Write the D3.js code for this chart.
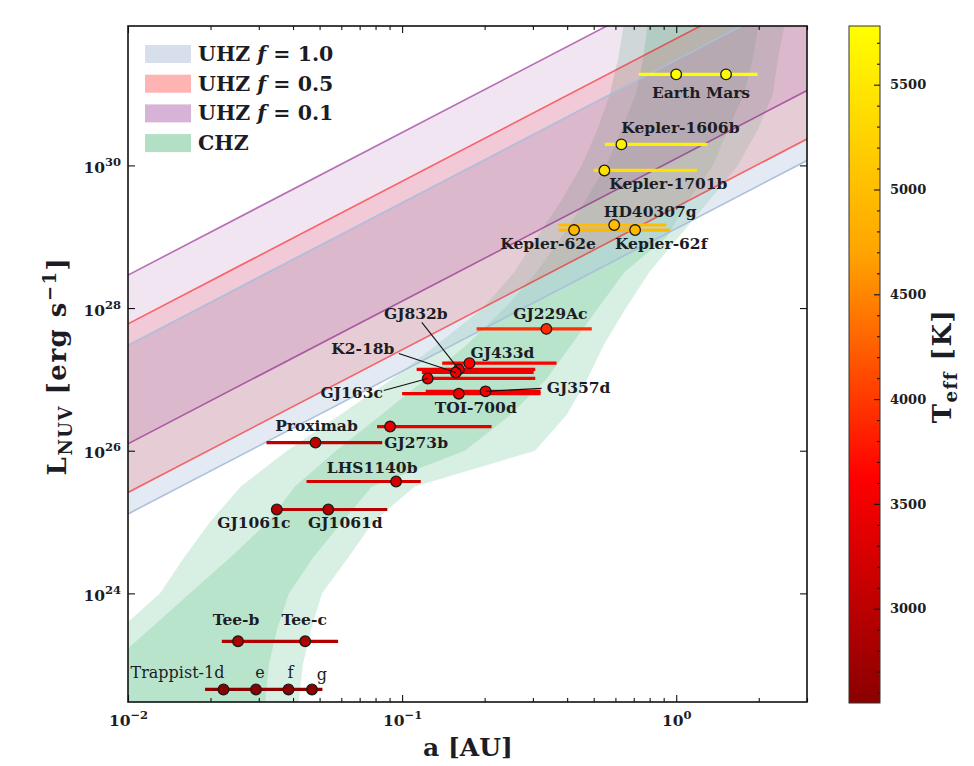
<!DOCTYPE html>
<html><head><meta charset="utf-8">
<script src="https://cdn.jsdelivr.net/npm/d3@7/dist/d3.min.js"></script>
<style>
body{margin:0;background:#fff;}
svg{display:block;}
text{font-family:"DejaVu Serif",serif;font-weight:bold;fill:#1c1c24;}
</style></head>
<body><svg id="c" width="974" height="766"></svg>
<script>
// ---------------- DATA ----------------
// Host stars: L_NUV [erg/s], HZ extent (a min, a max) [AU], Teff [K]
const hostNames = ["Sun","Kepler-1606","Kepler-1701","HD40307","Kepler-62","GJ229A","GJ433","GJ832","K2-18","GJ163","TOI-700","GJ357","GJ273","Proxima","LHS1140","GJ1061","Teegarden","Trappist-1"];
const hostL     = [1.89e31,1.97e30,8.5e29,1.46e29,1.24e29,5.1e27,1.69e27,1.38e27,1.25e27,1.03e27,6.3e26,6.8e26,2.18e26,1.30e26,3.7e25,1.50e25,2.13e23,4.5e22];
const hostAmin  = [0.73,0.549,0.50,0.372,0.372,0.187,0.140,0.113,0.118,0.122,0.100,0.122,0.081,0.0320,0.0448,0.0349,0.0220,0.0191];
const hostAmax  = [1.98,1.30,1.19,0.920,0.951,0.492,0.366,0.306,0.302,0.306,0.320,0.320,0.212,0.0846,0.117,0.0883,0.0584,0.0512];
const hostTeff  = [5778,5600,5420,4977,4925,3912,3616,3472,3457,3500,3480,3505,3382,3042,3216,2953,2904,2566];

// Planets: name, host, semi-major axis [AU]
const planetNames = ["Earth","Mars","Kepler-1606b","Kepler-1701b","HD40307g","Kepler-62e","Kepler-62f","GJ229Ac","GJ433d","GJ832b","K2-18b","GJ163c","TOI-700d","GJ357d","GJ273b","Proximab","LHS1140b","GJ1061c","GJ1061d","Tee-b","Tee-c","Trappist-1d","Trappist-1e","Trappist-1f","Trappist-1g"];
const planetHost  = ["Sun","Sun","Kepler-1606","Kepler-1701","HD40307","Kepler-62","Kepler-62","GJ229A","GJ433","GJ832","K2-18","GJ163","TOI-700","GJ357","GJ273","Proxima","LHS1140","GJ1061","GJ1061","Teegarden","Teegarden","Trappist-1","Trappist-1","Trappist-1","Trappist-1"];
const planetA     = [1.0,1.52,0.631,0.547,0.594,0.424,0.708,0.336,0.176,0.161,0.157,0.124,0.161,0.2016,0.0904,0.0483,0.0951,0.0349,0.0538,0.0252,0.0443,0.0223,0.0293,0.0385,0.0469];

// UHZ bands (L at a = 0.01 AU and a = 3 AU)
const uhzA        = [0.01, 3];
const uhzF1Low    = [1.3e25, 1.17e30];
const uhzF1High   = [3.0e27, 2.7e32];
const uhzF05Low   = [2.6e25, 2.34e30];
const uhzF05High  = [6.0e27, 5.4e32];
const uhzF01Low   = [1.25e26, 1.12e31];
const uhzF01High  = [2.9e28, 2.6e33];

// CHZ edges: log10 L levels and log10 a of the four edges
const chzLogL        = [32, 31.5, 31, 30.5, 30, 29.5, 29, 28.5, 28, 27.5, 27, 26.5, 26, 25.5, 25, 24.5, 24, 23.5, 23, 22];
const chzOuterLeft   = [-0.190,-0.212,-0.242,-0.288,-0.345,-0.420,-0.508,-0.592,-0.705,-0.869,-1.040,-1.227,-1.420,-1.588,-1.701,-1.796,-1.883,-2.029,-2.139,-2.321];
const chzInnerLeft   = [-0.103,-0.121,-0.147,-0.200,-0.255,-0.333,-0.417,-0.511,-0.625,-0.760,-0.916,-1.077,-1.241,-1.391,-1.489,-1.628,-1.774,-1.920,-2.066,-2.248];
const chzInnerRight  = [0.302,0.280,0.247,0.189,0.134,0.043,-0.034,-0.190,-0.285,-0.380,-0.475,-0.606,-0.771,-1.110,-1.219,-1.325,-1.413,-1.456,-1.486,-1.511];
const chzOuterRight  = [0.397,0.371,0.353,0.298,0.225,0.119,0.010,-0.099,-0.183,-0.262,-0.325,-0.400,-0.515,-0.953,-1.106,-1.197,-1.292,-1.332,-1.362,-1.391];

// Axis ticks
const xMajor = [0.01, 0.1, 1];
const xMinor = [0.02,0.03,0.04,0.05,0.06,0.07,0.08,0.09,0.2,0.3,0.4,0.5,0.6,0.7,0.8,0.9,2,3];
const yMajor = [1e24, 1e26, 1e28, 1e30];
const cbMajor = [3000, 3500, 4000, 4500, 5000, 5500];
const teffDomain = [2550, 5780];
const cmapColors = ["#8b0000", "#ff0000", "#ffa500", "#ffff00"];

// Legend
const legendItems = [
  {name:"UHZ", f:"1.0", color:"#d6dfeb"},
  {name:"UHZ", f:"0.5", color:"#ffb3b3"},
  {name:"UHZ", f:"0.1", color:"#d8b3d8"},
  {name:"CHZ", f:null,  color:"#b3dfc5"}
];

// Label layout (offsets from the planet marker, px)
const labelLayout = [
  {p:"Earth", t:"Earth", dx:0, dy:18},
  {p:"Mars", t:"Mars", dx:2, dy:18},
  {p:"Kepler-1606b", t:"Kepler-1606b", dx:59, dy:-17},
  {p:"Kepler-1701b", t:"Kepler-1701b", dx:64, dy:13},
  {p:"HD40307g", t:"HD40307g", dx:36, dy:-14},
  {p:"Kepler-62e", t:"Kepler-62e", dx:-26, dy:13},
  {p:"Kepler-62f", t:"Kepler-62f", dx:26, dy:13},
  {p:"GJ229Ac", t:"GJ229Ac", dx:4, dy:-15},
  {p:"GJ433d", t:"GJ433d", dx:33, dy:-11},
  {p:"GJ832b", t:"GJ832b", dx:-43, dy:-56, lx:-37, ly:-47},
  {p:"K2-18b", t:"K2-18b", dx:-93, dy:-24, lx:-57, ly:-19},
  {p:"GJ163c", t:"GJ163c", dx:-76, dy:14, lx:-44, ly:12},
  {p:"TOI-700d", t:"TOI-700d", dx:17, dy:14},
  {p:"GJ357d", t:"GJ357d", dx:93, dy:-4, lx:56, ly:-3},
  {p:"Proximab", t:"Proximab", dx:1, dy:-17},
  {p:"GJ273b", t:"GJ273b", dx:26, dy:16},
  {p:"LHS1140b", t:"LHS1140b", dx:-24, dy:-14},
  {p:"GJ1061c", t:"GJ1061c", dx:-23, dy:13},
  {p:"GJ1061d", t:"GJ1061d", dx:17, dy:13},
  {p:"Tee-b", t:"Tee-b", dx:-2, dy:-22},
  {p:"Tee-c", t:"Tee-c", dx:-1, dy:-22},
  {p:"Trappist-1d", t:"Trappist-1d", dx:-46, dy:-17, light:true},
  {p:"Trappist-1e", t:"e", dx:4, dy:-17, light:true},
  {p:"Trappist-1f", t:"f", dx:2, dy:-17, light:true},
  {p:"Trappist-1g", t:"g", dx:10, dy:-15, light:true}
];

// ---------------- DRAW ----------------
const PL=128, PR=807, PT=26, PB=702;
const svg = d3.select("#c");
const x = d3.scaleLog().domain([0.01, 3]).range([PL, PR]);
const y = d3.scaleLog().domain([3e22, 9e31]).range([PB, PT]);
const cScale = d3.scaleLinear()
  .domain(cmapColors.map((c,i)=>teffDomain[0] + i*(teffDomain[1]-teffDomain[0])/(cmapColors.length-1)))
  .range(cmapColors).clamp(true);

const defs = svg.append("defs");
defs.append("clipPath").attr("id","clip").append("rect")
  .attr("x",PL).attr("y",PT).attr("width",PR-PL).attr("height",PB-PT);

const plot = svg.append("g").attr("clip-path","url(#clip)");

// CHZ
const chzRows = chzLogL.map((l,i)=>({L:Math.pow(10,l), ol:Math.pow(10,chzOuterLeft[i]), il:Math.pow(10,chzInnerLeft[i]), ir:Math.pow(10,chzInnerRight[i]), or:Math.pow(10,chzOuterRight[i])}));
const chzOuter = d3.area().y(d=>y(d.L)).x0(d=>x(d.ol)).x1(d=>x(d.or));
const chzInner = d3.area().y(d=>y(d.L)).x0(d=>x(d.il)).x1(d=>x(d.ir));
plot.append("path").attr("d",chzOuter(chzRows)).attr("fill","#3cb371").attr("fill-opacity",0.2);
plot.append("path").attr("d",chzInner(chzRows)).attr("fill","#3cb371").attr("fill-opacity",0.2);

// UHZ
const uhzBands = [
  {lo:uhzF1Low, hi:uhzF1High, fill:"#b0c4de", op:0.35, line:"#a9bedb", lop:0.95},
  {lo:uhzF05Low, hi:uhzF05High, fill:"#ff0000", op:0.12, line:"#ff0000", lop:0.55},
  {lo:uhzF01Low, hi:uhzF01High, fill:"#800080", op:0.10, line:"#800080", lop:0.55}
];
const bandArea = d3.area().x(d=>x(d.a)).y0(d=>y(d.lo)).y1(d=>y(d.hi));
uhzBands.forEach(b=>{
  const rows = uhzA.map((a,i)=>({a:a, lo:b.lo[i], hi:b.hi[i]}));
  plot.append("path").attr("d",bandArea(rows)).attr("fill",b.fill).attr("fill-opacity",b.op);
});
const edgeLine = d3.line().x(d=>x(d.a)).y(d=>y(d.v));
uhzBands.forEach(b=>{
  [b.lo,b.hi].forEach(arr=>{
    plot.append("path").attr("d",edgeLine(uhzA.map((a,i)=>({a:a,v:arr[i]}))))
      .attr("fill","none").attr("stroke",b.line).attr("stroke-opacity",b.lop).attr("stroke-width",1.6);
  });
});

// HZ range bars
hostNames.forEach((h,i)=>{
  plot.append("line")
    .attr("x1",x(hostAmin[i])).attr("x2",x(hostAmax[i]))
    .attr("y1",y(hostL[i])).attr("y2",y(hostL[i]))
    .attr("stroke",cScale(hostTeff[i])).attr("stroke-width",3.2);
});

// planets
const planets = planetNames.map((n,i)=>{
  const hi = hostNames.indexOf(planetHost[i]);
  return {name:n, a:planetA[i], L:hostL[hi], teff:hostTeff[hi]};
});
const pMap = {}; planets.forEach(p=>pMap[p.name]=p);

// leader lines
const ann = svg.append("g");
labelLayout.forEach(l=>{
  if(l.lx!==undefined){
    const p = pMap[l.p];
    ann.append("line").attr("x1",x(p.a)+l.lx).attr("y1",y(p.L)+l.ly)
      .attr("x2",x(p.a)).attr("y2",y(p.L)).attr("stroke","#111").attr("stroke-width",1.1);
  }
});
plot.selectAll("circle.pl").data(planets).enter().append("circle")
  .attr("cx",d=>x(d.a)).attr("cy",d=>y(d.L)).attr("r",5.3)
  .attr("fill",d=>cScale(d.teff)).attr("stroke","#1a1a1a").attr("stroke-width",1.3);

labelLayout.forEach(l=>{
  const p = pMap[l.p];
  ann.append("text").attr("x",x(p.a)+l.dx).attr("y",y(p.L)+l.dy)
    .attr("text-anchor","middle").attr("dominant-baseline","central")
    .attr("font-size",l.light?16:15.5).style("font-weight",l.light?"normal":"bold")
    .text(l.t);
});

// legend
const lg = svg.append("g");
legendItems.forEach((it,i)=>{
  const cy = 54 + i*29.7;
  lg.append("rect").attr("x",145).attr("y",cy-9).attr("width",46).attr("height",18).attr("fill",it.color);
  const t = lg.append("text").attr("x",198).attr("y",cy).attr("dominant-baseline","central").attr("font-size",20.5);
  t.append("tspan").text(it.name + (it.f? " ":""));
  if(it.f){
    t.append("tspan").style("font-style","italic").text("f");
    t.append("tspan").text(" = " + it.f);
  }
});

// axes
function supLabel(sel, base, exp, sz){
  sel.text(null);
  sel.append("tspan").text(base);
  sel.append("tspan").attr("dy",-7).attr("font-size",sz).text(exp);
}
const fmtExp = d=>{const e=Math.round(Math.log10(d)); return (e<0?"\u2212":"")+Math.abs(e);};

const gxB = svg.append("g").attr("transform",`translate(0,${PB})`)
  .call(d3.axisBottom(x).tickValues(xMajor).tickSize(-7).tickSizeOuter(0).tickPadding(9).tickFormat(fmtExp));
svg.append("g").attr("transform",`translate(0,${PB})`)
  .call(d3.axisBottom(x).tickValues(xMinor).tickSize(-4).tickSizeOuter(0).tickFormat(""));
svg.append("g").attr("transform",`translate(0,${PT})`)
  .call(d3.axisTop(x).tickValues(xMajor).tickSize(-7).tickSizeOuter(0).tickFormat(""));
svg.append("g").attr("transform",`translate(0,${PT})`)
  .call(d3.axisTop(x).tickValues(xMinor).tickSize(-4).tickSizeOuter(0).tickFormat(""));
const gyL = svg.append("g").attr("transform",`translate(${PL},0)`)
  .call(d3.axisLeft(y).tickValues(yMajor).tickSize(-7).tickSizeOuter(0).tickPadding(7).tickFormat(fmtExp));
svg.append("g").attr("transform",`translate(${PR},0)`)
  .call(d3.axisRight(y).tickValues(yMajor).tickSize(-7).tickSizeOuter(0).tickFormat(""));

gxB.selectAll(".tick text").each(function(d){
  const s=d3.select(this); const e=fmtExp(d);
  s.attr("font-size",15.5).attr("font-family","DejaVu Serif").attr("dy","0.95em").attr("fill","#1c1c24");
  supLabel(s,"10",e,11.5);
});
gyL.selectAll(".tick text").each(function(d){
  const s=d3.select(this); const e=fmtExp(d);
  s.attr("font-size",15.5).attr("font-family","DejaVu Serif").attr("dy","0.45em").attr("fill","#1c1c24");
  supLabel(s,"10",e,11.5);
});
svg.selectAll(".domain").remove();
svg.selectAll(".tick line").attr("stroke","#111").attr("stroke-width",1.2);

svg.append("rect").attr("x",PL).attr("y",PT).attr("width",PR-PL).attr("height",PB-PT)
  .attr("fill","none").attr("stroke","#111").attr("stroke-width",1.6);

// axis titles
const xt = svg.append("text").attr("x",468).attr("y",756).attr("text-anchor","middle").attr("font-size",25);
xt.text("a [AU]");
const yt = svg.append("text").attr("transform","translate(66,366) rotate(-90)").attr("text-anchor","middle")
  .attr("font-size",26).style("letter-spacing","1.5px");
yt.append("tspan").text("L");
yt.append("tspan").attr("dy",6).attr("font-size",18).text("NUV");
yt.append("tspan").attr("dy",-6).text(" [erg s");
yt.append("tspan").attr("dy",-10).attr("font-size",18).text("\u22121");
yt.append("tspan").attr("dy",10).text("]");

// colorbar
const CBX=849, CBW=31, CBT=26, CBB=703;
const cbY = d3.scaleLinear().domain(teffDomain).range([CBB, CBT]);
const grad = defs.append("linearGradient").attr("id","cg").attr("x1",0).attr("y1",1).attr("x2",0).attr("y2",0);
cmapColors.forEach((c,i)=>grad.append("stop").attr("offset",i/(cmapColors.length-1)).attr("stop-color",c));
svg.append("rect").attr("x",CBX).attr("y",CBT).attr("width",CBW).attr("height",CBB-CBT).attr("fill","url(#cg)");
const cbMinor = d3.range(2600, 5800, 100).filter(v=>cbMajor.indexOf(v)<0);
svg.append("g").attr("transform",`translate(${CBX+CBW},0)`)
  .call(d3.axisRight(cbY).tickValues(cbMinor).tickSize(-3).tickSizeOuter(0).tickFormat(""));
const gcb = svg.append("g").attr("transform",`translate(${CBX+CBW},0)`)
  .call(d3.axisRight(cbY).tickValues(cbMajor).tickSize(-6).tickSizeOuter(0).tickPadding(10).tickFormat(d3.format("d")));
gcb.selectAll(".tick text").attr("font-size",13).attr("font-family","DejaVu Serif").attr("fill","#1c1c24");
svg.selectAll(".domain").remove();
svg.selectAll(".tick line").attr("stroke","#111").attr("stroke-width",1.1);
svg.append("rect").attr("x",CBX).attr("y",CBT).attr("width",CBW).attr("height",CBB-CBT)
  .attr("fill","none").attr("stroke","#333").attr("stroke-width",1);
const ct = svg.append("text").attr("transform","translate(951,366) rotate(-90)").attr("text-anchor","middle")
  .attr("font-size",26).style("letter-spacing","1.5px");
ct.append("tspan").text("T");
ct.append("tspan").attr("dy",6).attr("font-size",18).text("eff");
ct.append("tspan").attr("dy",-6).text(" [K]");
</script></body></html>
